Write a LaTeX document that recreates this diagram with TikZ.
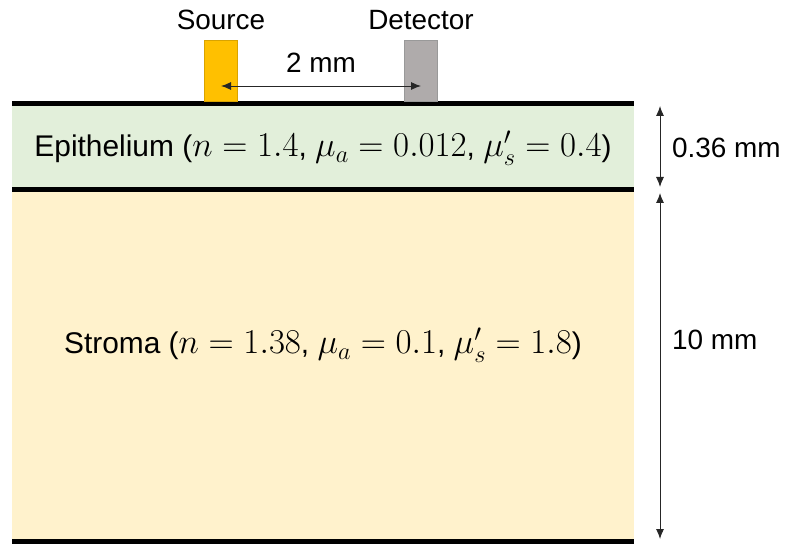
\RequirePackage{fix-cm}
\documentclass[tikz,border=0pt]{standalone}
\usepackage{fontspec}
\setmainfont{Liberation Sans}
\usetikzlibrary{arrows.meta,positioning}
\definecolor{Epi}{HTML}{E2EFDA}
\definecolor{Str}{HTML}{FFF2CC}
\definecolor{Src}{HTML}{FFC000}
\definecolor{SrcEdge}{HTML}{D9A300}
\definecolor{Det}{HTML}{AFABAB}
\definecolor{DetEdge}{HTML}{999999}

\newcommand{\bigmath}[1]{{\fontsize{35}{40}\selectfont$#1$}}

\tikzset{
  layer/.style={draw=none, minimum width=622bp, inner sep=0pt, anchor=north west},
  probe/.style={minimum width=33bp, minimum height=61bp, inner sep=0pt, anchor=south west, line width=1bp},
  boundary/.style={line width=5bp},
  dimline/.style={{Latex[length=10bp,width=8bp]}-{Latex[length=10bp,width=8bp]}, line width=0.9bp, draw=black!85},
  lbl/.style={font=\fontsize{28}{32}\selectfont, inner sep=0pt},
  layerlbl/.style={font=\fontsize{30}{34}\selectfont, inner sep=0pt},
}

\begin{document}
\begin{tikzpicture}[x=1bp, y=-1bp]
  \useasboundingbox (0,0) rectangle (786,544);
  % tissue layers
  \node[layer, fill=Epi, minimum height=86bp] (epi) at (12,104) {};
  \node[layer, fill=Str, minimum height=351bp] (str) at (12,190) {};
  \draw[boundary] (epi.north west) -- (epi.north east);
  \draw[boundary] (str.north west) -- (str.north east);
  \draw[boundary] (str.south west) -- (str.south east);
  \node[layerlbl] (epitext) at (323,148) {Epithelium (\bigmath{n = 1.4}, \bigmath{\mu_a = 0.012}, \bigmath{\mu_s' = 0.4})};
  \node[layerlbl] (strtext) at (323,345) {Stroma (\bigmath{n = 1.38}, \bigmath{\mu_a = 0.1}, \bigmath{\mu_s' = 1.8})};

  % probes
  \node[probe, fill=Src, draw=SrcEdge] (src) at (204,102) {};
  \node[probe, fill=Det, draw=DetEdge] (det) at (404,102) {};
  \node[lbl, anchor=base] (srclbl) at (221,30) {Source};
  \node[lbl, anchor=base] (detlbl) at (421,30) {Detector};
  \coordinate (srcpt) at (221,86);
  \coordinate (detpt) at (421,86);
  \draw[dimline] (srcpt) -- (detpt) node[lbl, midway, above=13bp] (sep) {2 mm};

  % thickness
  \coordinate (e1) at (660,106);
  \coordinate (e2) at (660,187);
  \coordinate (s1) at (660,193);
  \coordinate (s2) at (660,539);
  \draw[dimline] (e1) -- (e2);
  \draw[dimline] (s1) -- (s2);
  \node[lbl, anchor=west] (epithk) at (672,148) {0.36 mm};
  \node[lbl, anchor=west] (strthk) at (672,340) {10 mm};
\end{tikzpicture}
\end{document}
